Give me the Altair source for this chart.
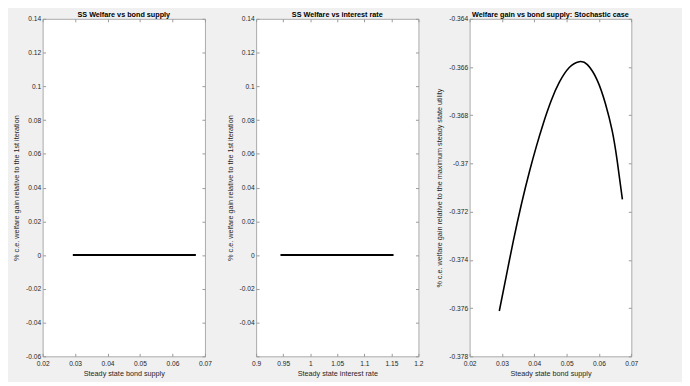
import altair as alt
import pandas as pd

# Panel 1: welfare vs bond supply (flat line at 0)
bond_x1 = [0.0293, 0.0672]
gain_y1 = [0.0, 0.0]
# Panel 2: welfare vs interest rate (flat line at 0)
rate_x2 = [0.945, 1.154]
gain_y2 = [0.0, 0.0]
# Panel 3: stochastic case
bond_x3 = [0.02918, 0.03144, 0.03346, 0.03603, 0.03857, 0.04062, 0.04264, 0.04521,
           0.04775, 0.05081, 0.05387, 0.05641, 0.05947, 0.06204, 0.06406, 0.06559, 0.06724]
gain_y3 = [-0.37612, -0.37460, -0.37325, -0.37168, -0.37030, -0.36930, -0.36840, -0.36740,
           -0.36663, -0.36602, -0.36578, -0.36590, -0.36655, -0.36754, -0.36863, -0.36985, -0.37149]

xticks_bond = [0.02, 0.03, 0.04, 0.05, 0.06, 0.07]
xticks_rate = [0.9, 0.95, 1, 1.05, 1.1, 1.15, 1.2]
yticks_12 = [-0.06, -0.04, -0.02, 0, 0.02, 0.04, 0.06, 0.08, 0.1, 0.12, 0.14]
yticks_3 = [-0.378, -0.376, -0.374, -0.372, -0.37, -0.368, -0.366, -0.364]

titles = ["SS Welfare vs bond supply", "SS Welfare  vs interest rate",
          "Welfare gain vs bond supply: Stochastic case"]
xtitles = ["Steady state bond supply", "Steady state interest rate", "Steady state bond supply"]
ytitles = ["% c.e. welfare gain relative to the 1st iteration",
           "% c.e. welfare gain relative to the 1st iteration",
           "% c.e. welfare gain relative to the maximum steady state utility"]

FONT = "Liberation Sans"
H = 341


def panel(xs, ys, xdom, ydom, xt, yt, title, xtitle, ytitle, width, ylabexpr, sw, interp):
    df = pd.DataFrame({"x": xs, "y": ys})
    xsc = alt.Scale(domain=xdom, nice=False, zero=False)
    ysc = alt.Scale(domain=ydom, nice=False, zero=False)
    base = alt.Chart(df)
    main = base.mark_line(color="black", strokeWidth=sw, interpolate=interp).encode(
        x=alt.X("x:Q", scale=xsc, axis=alt.Axis(
            orient="bottom", values=xt, labelExpr="'' + datum.value", title=xtitle,
            offset=-3, tickSize=3, domain=False, grid=False, labelPadding=4,
            titlePadding=3, labelFlush=False)),
        y=alt.Y("y:Q", scale=ysc, axis=alt.Axis(
            orient="left", values=yt, labelExpr=ylabexpr, title=ytitle,
            offset=-3, tickSize=3, domain=False, grid=False, labelPadding=2,
            titlePadding=5, labelFlush=False)),
    )
    frame = base.mark_line(opacity=0).encode(
        x=alt.X("x:Q", scale=xsc, axis=alt.Axis(
            orient="top", values=xt, labels=False, title=None,
            offset=-3, tickSize=3, domain=False, grid=False)),
        y=alt.Y("y:Q", scale=ysc, axis=alt.Axis(
            orient="right", values=yt, labels=False, title=None,
            offset=-3, tickSize=3, domain=False, grid=False)),
    )
    return alt.layer(main, frame).resolve_axis(x="independent", y="independent").properties(
        width=width, height=H, title=title)


lab = "'' + datum.value"
p1 = panel(bond_x1, gain_y1, [0.02, 0.07], [-0.06, 0.14], xticks_bond, yticks_12,
           titles[0], xtitles[0], ytitles[0], 164, lab, 2, "linear")
p2 = panel(rate_x2, gain_y2, [0.9, 1.2], [-0.06, 0.14], xticks_rate, yticks_12,
           titles[1], xtitles[1], ytitles[1], 164,
           "datum.value < -0.059 ? '' : '' + datum.value", 2, "linear")
p3 = panel(bond_x3, gain_y3, [0.02, 0.07], [-0.378, -0.364], xticks_bond, yticks_3,
           titles[2], xtitles[2], ytitles[2], 163.4, lab, 1.6, "natural")

chart = alt.hconcat(p1, p2, p3, spacing=51.7, bounds="flush").properties(
    padding={"left": 4, "top": 0, "right": 44, "bottom": 2},
    background="#f0f0f0",
).configure_view(stroke="#aaaaaa", strokeWidth=1, fill="white").configure_axis(
    labelFont=FONT, labelFontSize=6.7, labelColor="#262626",
    titleFont=FONT, titleFontSize=7.3, titleFontWeight="normal", titleColor="#262626",
    tickColor="#9a9a9a", tickWidth=1,
).configure_title(
    font=FONT, fontSize=7.3, fontWeight="bold", color="black", offset=-2, anchor="middle"
)

chart.save("out.html", embed_options={"renderer": "svg", "actions": False})
